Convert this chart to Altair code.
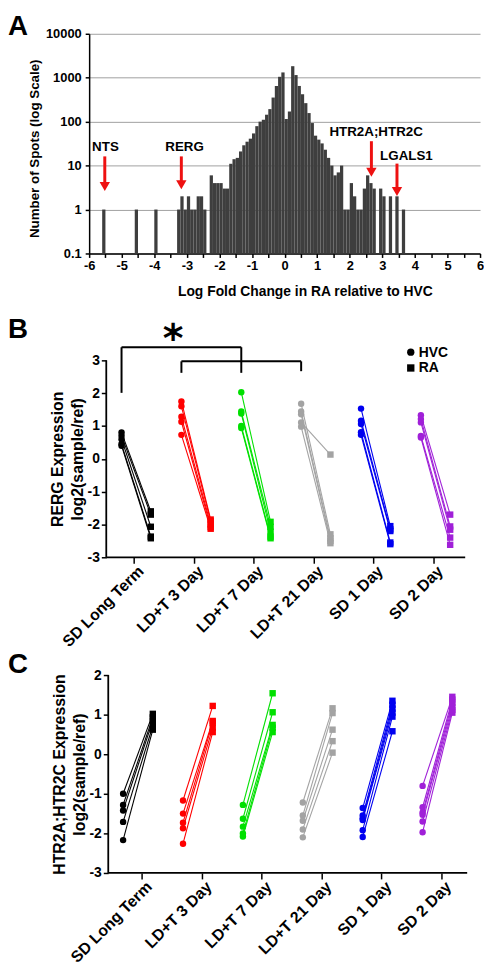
import altair as alt
import pandas as pd

FONT = "Liberation Sans"

# ---------------- Panel A: histogram of log fold change ----------------
bin_start = [-5.6, -4.6, -4.0, -3.3, -3.2, -3.1, -3.0, -2.9, -2.8, -2.7, -2.6, -2.5,
             -2.3, -2.2, -2.1, -2.0, -1.9, -1.8, -1.7, -1.6, -1.5, -1.4, -1.3, -1.2, -1.1, -1.0,
             -0.9, -0.8, -0.7, -0.6, -0.5, -0.4, -0.3, -0.2, -0.1, 0.0, 0.1, 0.2, 0.3, 0.4, 0.5,
             0.6, 0.7, 0.8, 0.9, 1.0, 1.1, 1.2, 1.3, 1.4, 1.5, 1.6, 1.7, 1.8, 1.9, 2.0, 2.1, 2.2,
             2.3, 2.4, 2.5, 2.6, 2.7, 2.9, 3.0, 3.2, 3.4, 3.6]
counts = [1, 1, 1, 1, 2, 1, 2, 1, 1, 2, 2, 1,
          6, 4, 4, 4, 3, 3, 11, 14, 15, 21, 29, 35, 41, 54,
          79, 100, 111, 144, 193, 354, 650, 1050, 1320, 115, 171, 1830, 1150, 650, 420,
          264, 157, 93, 48, 39, 32, 23, 15, 10, 6, 7, 10, 1, 1, 4, 2, 1,
          1, 3, 6, 4, 3, 3, 2, 2, 2, 1]
hist_ticks = [-6, -5.5, -5, -4.5, -4, -3.5, -3, -2.5, -2, -1.5, -1, -0.5, 0,
              0.5, 1, 1.5, 2, 2.5, 3, 3.5, 4, 4.5, 5, 5.5, 6]
count_ticks = [0.1, 1, 10, 100, 1000, 10000]

gene_labels = ["NTS", "RERG", "HTR2A;HTR2C", "LGALS1"]
label_x = [-5.5, -3.07, 2.81, 3.74]
label_y = [21.3, 21.3, 46.5, 13.4]
arrow_x = [-5.52, -3.17, 2.665, 3.45]
arrow_top = [16.2, 16.2, 35.9, 11.1]
arrow_head = [3.34, 3.65, 7.06, 2.58]

# ---------------- Panels B & C: paired HVC / RA expression ----------------
groups = ["SD Long Term", "LD+T 3 Day", "LD+T 7 Day", "LD+T 21 Day", "SD 1 Day", "SD 2 Day"]
group_colors = ["#000000", "#ff0000", "#00e000", "#a3a3a3", "#0000f0", "#a020d8"]
tissues = ["HVC", "RA"]
tissue_shapes = ["circle", "square"]
panel_letters = ["A", "B", "C"]

rerg_hvc = [[0.80, 0.70, 0.60, 0.45, 0.40],
            [1.75, 1.60, 1.28, 1.13, 0.73],
            [2.03, 1.44, 1.38, 1.00, 0.94],
            [1.68, 1.44, 1.36, 1.11, 0.98],
            [1.53, 1.16, 1.06, 0.81, 0.73],
            [1.33, 1.21, 1.11, 0.70, 0.65]]
rerg_ra = [[-1.60, -1.70, -2.07, -2.37, -2.42],
           [-1.85, -1.90, -2.00, -2.08, -2.13],
           [-1.92, -2.07, -2.22, -2.37, -2.42],
           [-2.30, -2.42, -2.50, 0.13, -2.57],
           [-2.05, -2.15, -2.20, -2.55, -2.60],
           [-1.70, -2.06, -2.16, -2.40, -2.62]]

htr_hvc = [[-1.00, -1.28, -1.42, -1.71, -2.17],
           [-1.17, -1.50, -1.73, -1.87, -2.26],
           [-1.28, -1.63, -1.83, -2.00, -2.08],
           [-1.22, -1.55, -1.68, -1.90, -2.10],
           [-1.36, -1.55, -1.62, -1.66, -1.92, -2.09],
           [-0.80, -1.34, -1.47, -1.53, -1.70, -1.97]]
htr_ra = [[1.02, 0.93, 0.85, 0.72, 0.62],
          [1.22, 0.84, 0.80, 0.67, 0.56],
          [1.54, 1.06, 0.74, 0.67, 0.56],
          [1.16, 1.04, 0.62, 0.33, 0.04],
          [1.35, 1.25, 1.15, 1.05, 0.95, 0.58],
          [1.45, 1.38, 1.30, 1.20, 1.12, 1.05]]

# significance brackets on panel B (data units)
br_x = [-0.203, -0.203, 1.797, 0.797, 0.797, 2.797]
br_x2 = [-0.203, 1.797, 1.797, 0.797, 2.797, 2.797]
br_y = [2.01, 3.40, 3.40, 2.62, 2.97, 2.97]
br_y2 = [3.40, 3.40, 2.62, 2.97, 2.97, 2.67]
star_x = [0.66]
star_y = [3.25]

LETTER_X = -82


def letter_layer(letter, y):
    return alt.Chart(pd.DataFrame({"t": [letter]})).mark_text(
        align="left", baseline="alphabetic", fontSize=28, fontWeight="bold", font=FONT,
        color="black").encode(text="t:N", x=alt.value(LETTER_X), y=alt.value(y))


# ---------------- build panel A ----------------
dfA = pd.DataFrame({"start": bin_start, "count": counts})
xA = alt.X("start:Q", scale=alt.Scale(domain=[-6, 6], nice=False, zero=False),
           axis=alt.Axis(values=hist_ticks,
                         labelExpr="datum.value % 1 === 0 ? '' + datum.value : ''",
                         title="Log Fold Change in RA relative to HVC", titleFontSize=14,
                         titlePadding=12, titleX=218, labelFontSize=13, labelPadding=2,
                         tickSize=4, tickWidth=1.5, domainWidth=1.5, grid=False,
                         labelFlush=False, labelOverlap=False))
yA = alt.Y("count:Q", scale=alt.Scale(type="log", domain=[0.1, 10000], nice=False),
           axis=alt.Axis(values=count_ticks, labelExpr="'' + datum.value", grid=True,
                         gridColor="#a0a0a0", gridWidth=1, title="Number of Spots (log Scale)",
                         titleFontSize=13.5, titleY=115.7, titlePadding=4, labelFontSize=13,
                         labelPadding=4, tickSize=4, tickWidth=1.5, domainWidth=1.5,
                         labelOverlap=False))

bars = alt.Chart(dfA).transform_calculate(end="datum.start + 0.1").mark_rect(
    color="#3e3e3e").encode(x=xA, x2="end:Q", y=yA, y2=alt.datum(0.1))

df_shaft = pd.DataFrame({"start": arrow_x, "count": arrow_top, "count2": arrow_head})
shafts = alt.Chart(df_shaft).mark_rule(color="#ee1111", strokeWidth=3).encode(
    x=xA, y=yA, y2="count2:Q")
df_head = pd.DataFrame({"start": arrow_x, "count": arrow_head})
heads = alt.Chart(df_head).mark_point(shape="triangle-down", filled=True, size=110,
                                      color="#ee1111", opacity=1).encode(x=xA, y=yA)
df_lab = pd.DataFrame({"start": label_x, "count": label_y, "gene": gene_labels})
labels = alt.Chart(df_lab).mark_text(font=FONT, fontWeight="bold", fontSize=13.5,
                                     baseline="alphabetic", color="black").encode(
    x=xA, y=yA, text="gene:N")

panelA = alt.layer(bars, shafts, heads, labels, letter_layer(panel_letters[0], 1.2)).properties(
    width=395, height=222)


# ---------------- build panels B & C ----------------
def long_df(hvc, ra, off_h, off_r):
    rows = []
    for gi, g in enumerate(groups):
        for j, (h, r) in enumerate(zip(hvc[gi], ra[gi])):
            sid = f"{gi}-{j}"
            rows.append({"group": g, "sid": sid, "tissue": "HVC", "pos": gi + off_h, "val": h})
            rows.append({"group": g, "sid": sid, "tissue": "RA", "pos": gi + off_r, "val": r})
    return pd.DataFrame(rows)


label_expr = "[" + ",".join("'" + g + "'" for g in groups) + "][datum.value]"
shape_enc = alt.Shape("tissue:N", scale=alt.Scale(domain=tissues, range=tissue_shapes),
                      legend=None)


def legend_layers():
    out = []
    # (symbol x, symbol y, label baseline y) in plot pixels
    spots = [(325, -8.3, -3.3), (325, 7.7, 12.0)]
    for t, (sx, sy, ty) in zip(tissues, spots):
        d = pd.DataFrame({"tissue": [t]})
        out.append(alt.Chart(d).mark_point(filled=True, size=55, color="black", opacity=1)
                   .encode(shape=shape_enc, x=alt.value(sx), y=alt.value(sy)))
        out.append(alt.Chart(d).mark_text(font=FONT, fontWeight="bold", fontSize=14,
                                          align="left", baseline="alphabetic", color="black")
                   .encode(text="tissue:N", x=alt.value(sx + 8), y=alt.value(ty)))
    return out


def expr_panel(df, title_lines, ylims, yticks, xdom, axis_start, yoffset, width, height,
               extra_bottom, letter, letter_y, extras, with_legend):
    # plot area is extended below the lowest tick by `extra_bottom` pixels (layout spacer)
    unit = height / (ylims[1] - ylims[0])
    ydom = [ylims[0] - extra_bottom / unit, ylims[1]]
    x = alt.X("pos:Q", scale=alt.Scale(domain=xdom, nice=False, zero=False),
              axis=alt.Axis(values=[0, 1, 2, 3, 4, 5], labelExpr=label_expr, labelAngle=-45,
                            labelAlign="right", labelBaseline="middle", labelFontSize=16,
                            labelPadding=5, labelOffset=7, tickSize=6, tickWidth=1.5,
                            domain=False, grid=False, title=None, labelFlush=False,
                            labelOverlap=False, offset=-extra_bottom))
    y = alt.Y("val:Q", scale=alt.Scale(domain=ydom, nice=False, zero=False),
              axis=alt.Axis(values=yticks, labelExpr="'' + datum.value", offset=yoffset,
                            title=title_lines, titleFontSize=16, titleLineHeight=20,
                            titleY=height / 2, titlePadding=2, labelFontSize=14,
                            labelPadding=2, tickSize=5, tickWidth=1.5, domain=False,
                            grid=False, labelOverlap=False))
    color = alt.Color("group:N", scale=alt.Scale(domain=groups, range=group_colors), legend=None)
    base = alt.Chart(df)
    lines = base.mark_line(strokeWidth=1.1).encode(x=x, y=y, detail="sid:N", color=color)
    pts = base.mark_point(filled=True, size=42, opacity=1).encode(x=x, y=y, color=color,
                                                                   shape=shape_enc)
    dom_df = pd.DataFrame({"pos": [axis_start, axis_start],
                           "pos2": [xdom[1], axis_start],
                           "val": [ylims[0], ylims[0]],
                           "val2": [ylims[0], ylims[1]]})
    dom = alt.Chart(dom_df).mark_rule(color="black", strokeWidth=1.8).encode(
        x=x, x2="pos2:Q", y=y, y2="val2:Q")
    layers = [lines, pts, dom]
    for e in extras:
        layers.append(e(x, y))
    if with_legend:
        layers += legend_layers()
    layers.append(letter_layer(letter, letter_y))
    return alt.layer(*layers).properties(width=width, height=height + extra_bottom)


def brackets(x, y):
    d = pd.DataFrame({"pos": br_x, "pos2": br_x2, "val": br_y, "val2": br_y2})
    return alt.Chart(d).mark_rule(color="black", strokeWidth=2).encode(
        x=x, x2="pos2:Q", y=y, y2="val2:Q")


def star(x, y):
    d = pd.DataFrame({"pos": star_x, "val": star_y, "t": ["*"]})
    return alt.Chart(d).mark_text(font="DejaVu Sans", fontWeight="bold", fontSize=40,
                                  baseline="alphabetic", color="black").encode(
        x=x, y=y, text="t:N")


dfB = long_df(rerg_hvc, rerg_ra, -0.203, 0.286)
panelB = expr_panel(dfB, ["RERG Expression", "log2(sample/ref)"], [-3, 3],
                    [-3, -2, -1, 0, 1, 2, 3], [-0.744, 5.537], -0.458, -17.3, 380, 199, 11,
                    panel_letters[1], -23, [brackets, star], True)

dfC = long_df(htr_hvc, htr_ra, -0.314, 0.182)
panelC = expr_panel(dfC, ["HTR2A;HTR2C Expression", "log2(sample/ref)"], [-3, 2],
                    [-3, -2, -1, 0, 1, 2], [-0.881, 5.43], -0.562, -19.3, 382, 200, 0,
                    panel_letters[2], -1.7, [], False)

chart = alt.vconcat(panelA, panelB, panelC, spacing=108, bounds="flush").properties(
    padding={"left": 0, "top": 0, "right": 0, "bottom": 0}).configure_view(
    stroke=None).configure_axis(labelFont=FONT, titleFont=FONT, labelFontWeight="bold",
                                titleFontWeight="bold", labelColor="black", titleColor="black",
                                domainColor="black", tickColor="black")

chart.save("out.html", embed_options={"renderer": "svg", "actions": False})
